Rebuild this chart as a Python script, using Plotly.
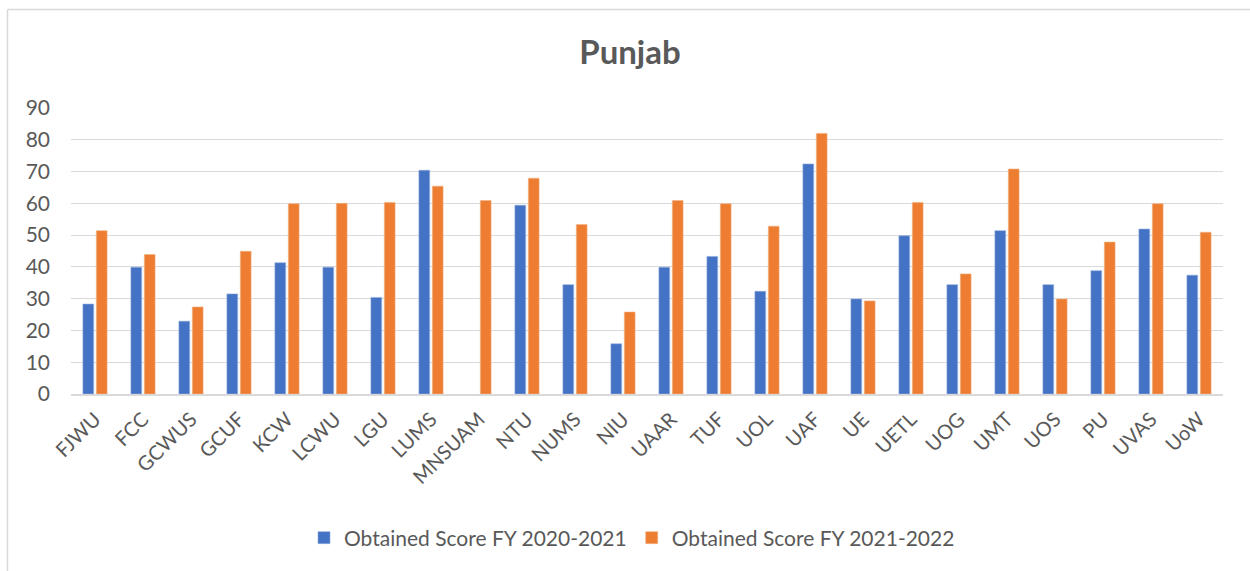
import plotly.graph_objects as go

categories = ["FJWU", "FCC", "GCWUS", "GCUF", "KCW", "LCWU", "LGU", "LUMS", "MNSUAM",
              "NTU", "NUMS", "NIU", "UAAR", "TUF", "UOL", "UAF", "UE", "UETL", "UOG",
              "UMT", "UOS", "PU", "UVAS", "UoW"]
score_2020_2021 = [28.3, 39.9, 22.9, 31.5, 41.3, 39.9, 30.4, 70.4, None,
                   59.4, 34.4, 15.8, 39.9, 43.3, 32.3, 72.4, 29.9, 49.8, 34.4,
                   51.4, 34.4, 38.8, 51.9, 37.4]
score_2021_2022 = [51.4, 43.9, 27.4, 44.9, 59.9, 60.0, 60.3, 65.4, 60.9,
                   67.9, 53.3, 25.8, 60.9, 59.9, 52.8, 82.0, 29.3, 60.3, 37.8,
                   70.8, 29.9, 47.8, 59.9, 50.9]
y_ticks = [0, 10, 20, 30, 40, 50, 60, 70, 80, 90]

FONT = "Lato, 'Open Sans', sans-serif"
GREY = "#595959"

fig = go.Figure()
fig.add_trace(go.Bar(x=categories, y=score_2020_2021, name="Obtained Score FY 2020-2021",
                     marker=dict(color="#4472C4", line=dict(color="#8FAADC", width=0.6))))
fig.add_trace(go.Bar(x=categories, y=score_2021_2022, name="Obtained Score FY 2021-2022",
                     marker=dict(color="#ED7D31", line=dict(color="#F4B183", width=0.6))))

W, H = 1250, 571
ml, mr, mt, mb = 71, 27, 108, 177
pw, ph = W - ml - mr, H - mt - mb

def px_x(p):
    return (p - ml) / pw

def px_y(p):
    return (H - mb - p) / ph

fig.update_layout(
    width=W, height=H,
    margin=dict(l=ml, r=mr, t=mt, b=mb),
    paper_bgcolor="white", plot_bgcolor="white",
    font=dict(family=FONT, color=GREY),
    barmode="group", bargap=0.44, bargroupgap=0.2,
    title=dict(text="<b>Punjab</b>", x=630 / W, xanchor="center", y=1 - 52 / H, yanchor="middle",
               font=dict(size=33, color=GREY, family=FONT)),
    legend=dict(orientation="h", x=px_x(632), xanchor="center", y=px_y(538), yanchor="middle",
                font=dict(size=21, color=GREY), itemwidth=30, traceorder="normal"),
    showlegend=True,
)
fig.update_yaxes(range=[0, 90], tickvals=y_ticks, showgrid=True, gridcolor="#D9D9D9", gridwidth=1.3,
                 zeroline=False, showline=False, tickfont=dict(size=21, color=GREY),
                 ticklabelstandoff=20, fixedrange=True)
fig.update_xaxes(showline=True, linecolor="#D9D9D9", linewidth=1.5, tickangle=-45,
                 tickfont=dict(size=20, color=GREY), ticks="", ticklabelstandoff=4)

# chart area border (left and top edges visible)
fig.add_shape(type="line", xref="paper", yref="paper", x0=px_x(7.5), x1=px_x(1255),
              y0=px_y(9.5), y1=px_y(9.5), line=dict(color="#D9D9D9", width=1.5))
fig.add_shape(type="line", xref="paper", yref="paper", x0=px_x(7.5), x1=px_x(7.5),
              y0=px_y(9.5), y1=px_y(580), line=dict(color="#D9D9D9", width=1.5))

fig.write_html("out.html", config={"displayModeBar": False},
               post_script="document.body.style.margin='0';document.body.style.overflow='hidden';")
